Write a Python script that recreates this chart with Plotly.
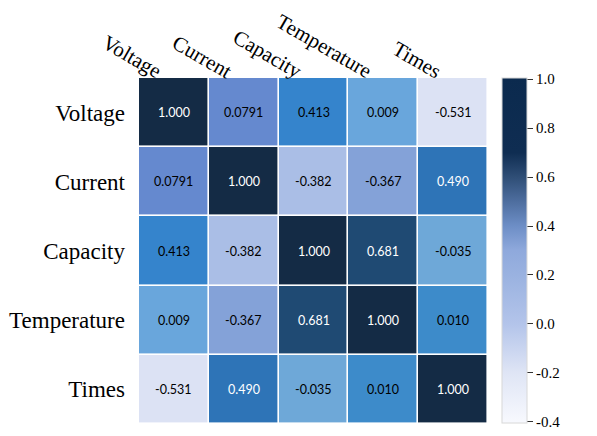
import plotly.graph_objects as go

# ---- data ----
categories = ["Voltage", "Current", "Capacity", "Temperature", "Times"]
voltage_row = [1.000, 0.0791, 0.413, 0.009, -0.531]
current_row = [0.0791, 1.000, -0.382, -0.367, 0.490]
capacity_row = [0.413, -0.382, 1.000, 0.681, -0.035]
temperature_row = [0.009, -0.367, 0.681, 1.000, 0.010]
times_row = [-0.531, 0.490, -0.035, 0.010, 1.000]
cell_labels = [
    ["1.000", "0.0791", "0.413", "0.009", "-0.531"],
    ["0.0791", "1.000", "-0.382", "-0.367", "0.490"],
    ["0.413", "-0.382", "1.000", "0.681", "-0.035"],
    ["0.009", "-0.367", "0.681", "1.000", "0.010"],
    ["-0.531", "0.490", "-0.035", "0.010", "1.000"],
]
colorbar_ticks = [-0.4, -0.2, 0.0, 0.2, 0.4, 0.6, 0.8, 1.0]
colorbar_ticktext = ["-0.4", "-0.2", "0.0", "0.2", "0.4", "0.6", "0.8", "1.0"]

z = [voltage_row, current_row, capacity_row, temperature_row, times_row]

# ---- styles ----
cell_color_stops = [
    (-0.531, "#dce2f4"),
    (-0.382, "#aabee6"),
    (-0.367, "#84a2d8"),
    (-0.035, "#6ea8d8"),
    (0.009, "#69a6dc"),
    (0.010, "#3d8bca"),
    (0.0791, "#6589cf"),
    (0.413, "#3584cc"),
    (0.490, "#2e74b7"),
    (0.681, "#1f4a73"),
    (1.000, "#142b45"),
]
zmin = min(v for v, _ in cell_color_stops)
zmax = max(v for v, _ in cell_color_stops)
cell_scale = [[(v - zmin) / (zmax - zmin), c] for v, c in cell_color_stops]
cell_scale[0][0] = 0.0
cell_scale[-1][0] = 1.0

cb_min, cb_max = -0.405, 1.005
bar_stops = [
    (-0.405, "#f8f9fe"),
    (-0.2, "#dfe5f5"),
    (0.0, "#b3c4ea"),
    (0.2, "#9ab2e0"),
    (0.3, "#8fa9dc"),
    (0.4, "#6d8ec6"),
    (0.5, "#4e6e9f"),
    (0.6, "#2f4e76"),
    (0.7, "#0f2d52"),
    (1.005, "#0b2a4e"),
]
bar_scale = [[(v - cb_min) / (cb_max - cb_min), c] for v, c in bar_stops]
bar_scale[0][0] = 0.0
bar_scale[-1][0] = 1.0

serif = "Liberation Serif, Times New Roman, serif"
W, H = 597, 436
ML, MR, MT, MB = 131, 117, 70, 20
plot_w = W - ML - MR

fig = go.Figure()
fig.add_trace(go.Heatmap(
    x=categories, y=categories, z=z,
    colorscale=cell_scale, zmin=zmin, zmax=zmax,
    xgap=1.6, ygap=1.6, showscale=False, hoverinfo="skip",
))

# colorbar carrier
fig.add_trace(go.Scatter(
    x=[categories[2]], y=[categories[2]], mode="markers",
    marker=dict(size=1, opacity=0, color=[0.3], cmin=cb_min, cmax=cb_max,
                colorscale=bar_scale, showscale=True,
                colorbar=dict(
                    thickness=25, lenmode="pixels", len=345,
                    x=(494 - ML) / plot_w, xanchor="left", xpad=0,
                    y=1.0, yanchor="top", ypad=0,
                    outlinewidth=1, outlinecolor="#d8d8d8",
                    ticks="outside", ticklen=6, tickwidth=1.2, tickcolor="#333333",
                    tickvals=colorbar_ticks, ticktext=colorbar_ticktext,
                    tickfont=dict(family=serif, size=15, color="black"),
                )),
    hoverinfo="skip", showlegend=False,
))

annotations = []
for i, row in enumerate(z):
    for j, v in enumerate(row):
        annotations.append(dict(
            x=categories[j], y=categories[i], xref="x", yref="y",
            text=cell_labels[i][j], showarrow=False,
            font=dict(family="Lato, Open Sans, sans-serif", size=12.5,
                      color="white" if v > 0.45 else "black"),
        ))
for j, name in enumerate(categories):
    annotations.append(dict(
        x=categories[j], y=1.0, xref="x", yref="paper",
        text=name, showarrow=False, textangle=30,
        xanchor="right", yanchor="bottom", xshift=-5, yshift=-8,
        font=dict(family=serif, size=21, color="black"),
    ))

fig.update_layout(
    width=W, height=H,
    margin=dict(l=ML, r=MR, t=MT, b=MB, autoexpand=False),
    paper_bgcolor="white", plot_bgcolor="white",
    annotations=annotations,
    xaxis=dict(showticklabels=False, ticks="", showgrid=False, zeroline=False,
               showline=False, automargin=False, range=[-0.5, 4.5]),
    yaxis=dict(range=[4.5, -0.5], ticks="", showgrid=False, zeroline=False,
               showline=False, ticklabelstandoff=13, automargin=False,
               tickfont=dict(family=serif, size=23, color="black")),
    showlegend=False,
)

fig.write_html("out.html")
